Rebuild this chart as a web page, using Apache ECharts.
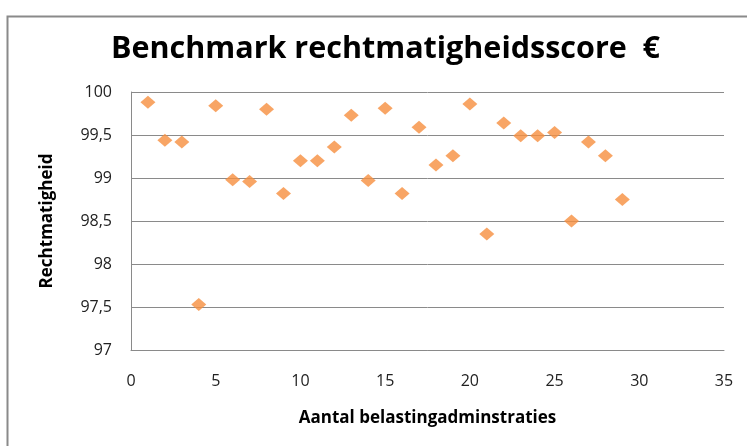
<!DOCTYPE html>
<html>
<head>
<meta charset="utf-8">
<script src="https://cdn.jsdelivr.net/npm/echarts@6.0.0/dist/echarts.min.js"></script>
<style>
  html, body { margin: 0; padding: 0; background: #fff; }
  #chart { width: 747px; height: 446px; }
</style>
</head>
<body>
<div id="chart"></div>
<script>
// aantal belastingadministraties (x) en rechtmatigheid (y)
var administraties = [1, 2, 3, 4, 5, 6, 7, 8, 9, 10, 11, 12, 13, 14, 15,
                      16, 17, 18, 19, 20, 21, 22, 23, 24, 25, 26, 27, 28, 29];
var rechtmatigheid = [99.88, 99.44, 99.42, 97.53, 99.84, 98.98, 98.96, 99.80, 98.82, 99.20,
                      99.20, 99.36, 99.73, 98.97, 99.81, 98.82, 99.59, 99.15, 99.26, 99.86,
                      98.35, 99.64, 99.49, 99.49, 99.53, 98.50, 99.42, 99.26, 98.75];

var titel = 'Benchmark rechtmatigheidsscore  €';
var xNaam = 'Aantal belastingadminstraties';
var yNaam = 'Rechtmatigheid';

var fontFam = '"Open Sans", Lato, sans-serif';

var chart = echarts.init(document.getElementById('chart'));
var option = {
    animation: false,
    title: {
        text: titel,
        left: 106,
        top: 29,
        textStyle: { fontFamily: fontFam, fontSize: 30.5, fontWeight: 'bold', color: '#000' }
    },
    graphic: [{
        type: 'rect',
        shape: { x: 7.5, y: 16.5, width: 800, height: 500 },
        style: { fill: 'none', stroke: '#8a8a8a', lineWidth: 2 },
        silent: true
    }],
    grid: { left: 131, right: 23, top: 92, bottom: 96 },
    xAxis: {
        type: 'value',
        min: 0, max: 35, interval: 5,
        name: xNaam,
        nameLocation: 'middle',
        nameGap: 60,
        nameTextStyle: { fontFamily: fontFam, fontSize: 17, fontWeight: 'bold', color: '#000' },
        axisLine: { show: true, lineStyle: { color: '#8a8a8a' } },
        axisTick: { show: false },
        splitLine: { show: false },
        axisLabel: { fontFamily: fontFam, fontSize: 16, color: '#222', margin: 23 }
    },
    yAxis: {
        type: 'value',
        min: 97, max: 100, interval: 0.5,
        name: yNaam,
        nameLocation: 'middle',
        nameGap: 75,
        nameTextStyle: { fontFamily: fontFam, fontSize: 17, fontWeight: 'bold', color: '#000' },
        axisLine: { show: true, lineStyle: { color: '#8a8a8a' } },
        axisTick: { show: false },
        splitLine: { show: true, lineStyle: { color: '#8a8a8a' } },
        axisLabel: {
            fontFamily: fontFam, fontSize: 16, color: '#222', margin: 19,
            formatter: function (v) { return String(v).replace('.', ','); }
        }
    },
    series: [{
        type: 'scatter',
        symbol: 'diamond',
        symbolSize: [15, 13],
        itemStyle: { color: '#F68F3E' },
        data: administraties.map(function (x, i) { return [x, rechtmatigheid[i]]; })
    }]
};
chart.setOption(option);
</script>
</body>
</html>
